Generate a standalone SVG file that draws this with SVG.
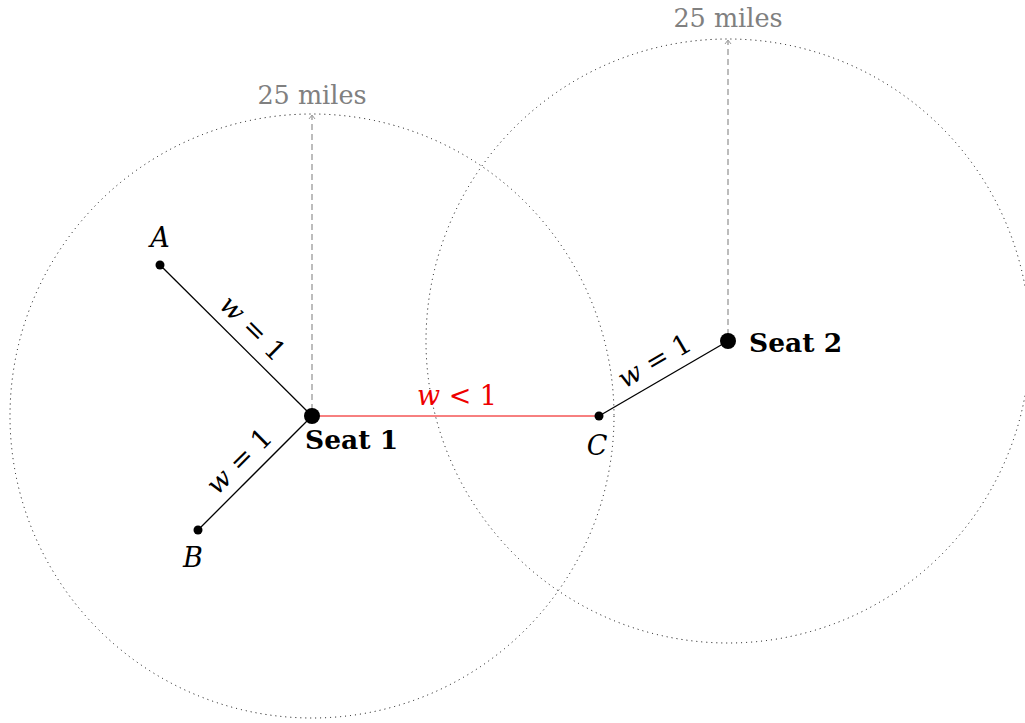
<svg xmlns="http://www.w3.org/2000/svg" width="1025" height="723" viewBox="0 0 1025 723">
<style>
.circ{fill:none;stroke:#000;stroke-width:1;stroke-dasharray:1 4}
.rad{stroke:#999;stroke-width:1.3;stroke-dasharray:6 4;fill:none}
.tip{stroke:#999;stroke-width:1;fill:none}
.edge{stroke:#000;stroke-width:1.3}
.red{stroke:#e00;stroke-width:1}
.lbl{font-family:"DejaVu Serif","Liberation Serif",serif;font-size:27px;fill:#000}
.mi{font-style:italic}
.bold{font-weight:bold;font-size:26.5px}
.gray{fill:#808080;font-size:25.5px}
</style>
<rect width="1025" height="723" fill="#fff"/>
<g id="circles">
<circle class="circ" cx="312" cy="416" r="302"/>
<circle class="circ" cx="728" cy="341" r="302"/>
</g>
<g id="radii">
<line class="rad" x1="312" y1="410" x2="312" y2="116"/>
<polyline class="tip" points="309,119 312,115 315,119"/>
<text class="lbl gray" x="312" y="104" text-anchor="middle">25 miles</text>
<line class="rad" x1="728" y1="335" x2="728" y2="41"/>
<polyline class="tip" points="725,44 728,40 731,44"/>
<text class="lbl gray" x="728" y="27" text-anchor="middle">25 miles</text>
</g>
<g id="connectors">
<line class="edge" x1="160" y1="265" x2="312" y2="416"/>
<line class="edge" x1="198" y1="530" x2="312" y2="416"/>
<line class="red" x1="312" y1="416" x2="599" y2="416"/>
<line class="edge" x1="599" y1="416" x2="728" y2="341"/>
<text class="lbl" transform="translate(252,329) rotate(44.8)" text-anchor="middle" dy="8"><tspan class="mi">w</tspan> = 1</text>
<text class="lbl" transform="translate(240,462) rotate(-45)" text-anchor="middle" dy="8"><tspan class="mi">w</tspan> = 1</text>
<text class="lbl" transform="translate(655,362) rotate(-30.2)" text-anchor="middle" dy="8"><tspan class="mi">w</tspan> = 1</text>
<text class="lbl" x="457" y="405" text-anchor="middle" style="fill:#e00"><tspan class="mi">w</tspan> &lt; 1</text>
</g>
<g id="nodeA">
<circle cx="160" cy="265" r="4.5" fill="#000"/>
<text class="lbl mi" x="160" y="247" text-anchor="middle">A</text>
</g>
<g id="nodeB">
<circle cx="198" cy="530" r="4.5" fill="#000"/>
<text class="lbl mi" x="193" y="567" text-anchor="middle">B</text>
</g>
<g id="nodeC">
<circle cx="599" cy="416" r="4.5" fill="#000"/>
<text class="lbl mi" x="597" y="455" text-anchor="middle">C</text>
</g>
<g id="seat1">
<circle cx="312" cy="416" r="8" fill="#000"/>
<text class="lbl bold" x="305" y="449">Seat 1</text>
</g>
<g id="seat2">
<circle cx="728" cy="341" r="8" fill="#000"/>
<text class="lbl bold" x="749" y="352">Seat 2</text>
</g>
</svg>
